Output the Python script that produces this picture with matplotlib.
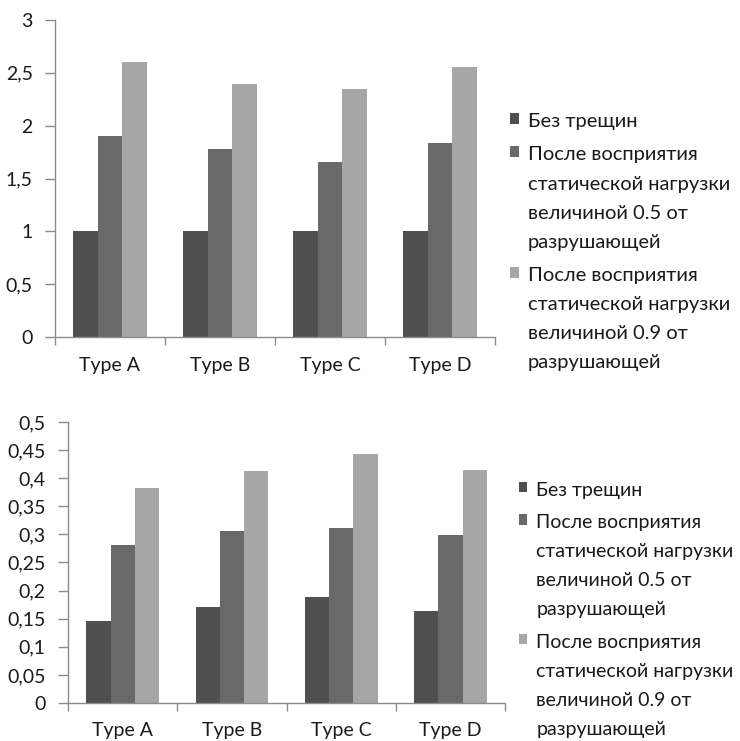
import matplotlib.pyplot as plt
import numpy as np

plt.rcParams["font.family"] = ["Lato", "DejaVu Sans"]

categories = ["Type A", "Type B", "Type C", "Type D"]
series_labels = [
    "Без трещин",
    "После восприятия\nстатической нагрузки\nвеличиной 0.5 от\nразрушающей",
    "После восприятия\nстатической нагрузки\nвеличиной 0.9 от\nразрушающей",
]
colors = ["#4f4f4f", "#696969", "#a6a6a6"]

top_values = [
    [1.0, 1.0, 1.0, 1.0],
    [1.90, 1.78, 1.66, 1.84],
    [2.60, 2.39, 2.35, 2.56],
]
bottom_values = [
    [0.146, 0.171, 0.188, 0.163],
    [0.281, 0.306, 0.311, 0.299],
    [0.383, 0.412, 0.443, 0.415],
]
top_ticks = [0, 0.5, 1, 1.5, 2, 2.5, 3]
top_ticklabels = ["0", "0,5", "1", "1,5", "2", "2,5", "3"]
bottom_ticks = [0, 0.05, 0.1, 0.15, 0.2, 0.25, 0.3, 0.35, 0.4, 0.45, 0.5]
bottom_ticklabels = ["0", "0,05", "0,1", "0,15", "0,2", "0,25", "0,3", "0,35", "0,4", "0,45", "0,5"]

AXIS_GREY = "#8c8c8c"
TEXT = "#1a1a1a"
FS = 14


def draw_panel(axis, values, ticks, ticklabels, ymax, xpad):
    x = np.arange(len(categories))
    width = 1 / 4.5
    for i, (vals, color) in enumerate(zip(values, colors)):
        axis.bar(x + (i - 1) * width, vals, width, color=color, label=series_labels[i])
    axis.set_xlim(-0.5, len(categories) - 0.5)
    axis.set_ylim(0, ymax)
    axis.set_yticks(ticks)
    axis.set_yticklabels(ticklabels, fontsize=FS, color=TEXT)
    axis.set_xticks(x)
    axis.set_xticklabels(categories, fontsize=FS, color=TEXT)
    axis.tick_params(axis="x", length=0, pad=xpad)
    axis.set_xticks(np.arange(len(categories) + 1) - 0.5, minor=True)
    axis.tick_params(axis="x", which="minor", length=6, color=AXIS_GREY, width=1)
    axis.tick_params(axis="y", length=7, color=AXIS_GREY, width=1, pad=9)
    for side in ["top", "right"]:
        axis.spines[side].set_visible(False)
    for side in ["left", "bottom"]:
        axis.spines[side].set_color(AXIS_GREY)
        axis.spines[side].set_linewidth(1)


def add_legend(figure, axis, anchor, fontsize):
    handles, labels = axis.get_legend_handles_labels()
    legend = figure.legend(
        handles,
        labels,
        loc="upper left",
        bbox_to_anchor=anchor,
        frameon=False,
        fontsize=fontsize,
        handlelength=0.45,
        handleheight=0.45,
        handletextpad=0.45,
        labelspacing=0.8,
        borderpad=0,
        borderaxespad=0,
        labelcolor=TEXT,
    )
    for text in legend.get_texts():
        text.set_linespacing(1.86)
    # square next to the first line, like Excel does
    for column in legend._legend_handle_box.get_children():
        for item in column.get_children():
            item.align = "top"
    return legend


figure = plt.figure(figsize=(7.4, 7.41), dpi=100)
top_axis = figure.add_axes([0.0743, 0.545, 0.5946, 0.428])
bottom_axis = figure.add_axes([0.092, 0.0513, 0.5905, 0.3792])

draw_panel(top_axis, top_values, top_ticks, top_ticklabels, 3, 14)
draw_panel(bottom_axis, bottom_values, bottom_ticks, bottom_ticklabels, 0.5, 14)

add_legend(figure, top_axis, (0.689, 0.847), 14.5)
add_legend(figure, bottom_axis, (0.701, 0.350), 14)

figure.savefig("out.png", dpi=100)
